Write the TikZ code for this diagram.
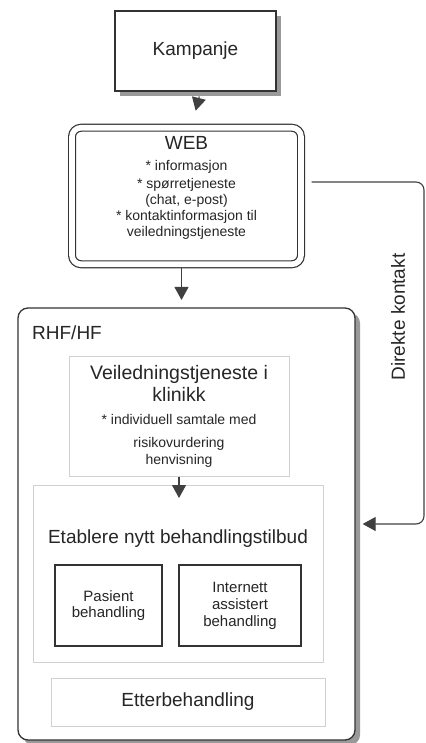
\documentclass[tikz,border=0pt]{standalone}
\usepackage{fontspec}
\setmainfont{Liberation Sans}
\usetikzlibrary{shadows,arrows.meta}
\newcommand{\bigtxt}{\fontsize{19}{22}\selectfont}
\newcommand{\smalltxt}{\fontsize{14}{16}\selectfont}

\begin{document}
\begin{tikzpicture}[x=1pt,y=-1pt,
  box/.style={draw=black!80,line width=1.3pt,fill=white,inner sep=0pt,text=black!85},
  shadowbox/.style={box,drop shadow={shadow xshift=5pt,shadow yshift=-5pt,fill=black!40,opacity=1}},
  lightbox/.style={draw=black!18,line width=1pt,fill=white,inner sep=0pt,text=black!85},
  arr/.style={draw=black!75,line width=1.1pt,-{Triangle[width=14pt,length=13pt]}},
  big/.style={font=\bigtxt,text=black!85},
  small/.style={font=\smalltxt,text=black!85}]
  \useasboundingbox (0,0) rectangle (425,743);
  \node[shadowbox,minimum width=161pt,minimum height=80pt,big] (kampanje) at (195.5,51) {Kampanje};
  \node[box,double,double distance=5.6pt,line width=1.2pt,rounded corners=9pt,minimum width=229pt,minimum height=136.5pt] (web) at (186.5,196) {};
  \node[small,inner sep=0pt] (webtext) at (186.5,189) {\begin{tabular}{@{}c@{}}
    \bigtxt WEB\\[5pt]
    {*} informasjon\\[2pt]
    {*} spørretjeneste\\
    (chat, e-post)\\
    {*} kontaktinformasjon til\\
    veiledningstjeneste
  \end{tabular}};
  \node[shadowbox,rounded corners=10pt,minimum width=337pt,minimum height=432pt] (rhf) at (186.5,524) {};
  \node[big,anchor=west,inner sep=0pt] (rhflabel) at (32,333) {RHF/HF};
  \node[lightbox,minimum width=220pt,minimum height=120pt,small] (veil) at (179,416) {\begin{tabular}{@{}c@{}}
    \rule{0pt}{17pt}\fontsize{19.5}{22}\selectfont Veiledningstjeneste i\\[3pt]
    \fontsize{19.5}{22}\selectfont klinikk\\[7pt]
    {*} individuell samtale med\\[7pt]
    risikovurdering\\[1pt]
    henvisning
  \end{tabular}};
  \node[lightbox,minimum width=290pt,minimum height=177pt] (etab) at (178,573.5) {};
  \node[big] (etabtitle) at (178,539) {Etablere nytt behandlingstilbud};
  \node[box,minimum width=107pt,minimum height=81pt,align=center,font=\fontsize{15}{16.5}\selectfont] (pasient) at (108.5,605.5) {Pasient\\behandling};
  \node[box,minimum width=122pt,minimum height=81pt,align=center,font=\fontsize{15}{17}\selectfont] (internett) at (240,605.5) {Internett\\assistert\\behandling};
  \node[lightbox,minimum width=274pt,minimum height=48pt,big] (etter) at (188,702) {Etterbehandling};

  \draw[arr,shorten <=5pt,shorten >=17pt] ([xshift=5pt]kampanje.south) -- ([xshift=5pt]web.north);
  \draw[arr,shorten <=3pt,shorten >=7.4pt] ([xshift=-5pt]web.south) -- ([xshift=-5pt]rhf.north);
  \draw[arr,shorten >=-13.5pt] (veil.south) -- (veil.south |- etab.north);
  \draw[arr,rounded corners=8pt,shorten <=10pt] ([yshift=14pt]web.east) -- ++(122.4,0) |- ([xshift=7pt]rhf.east);
  \node[big,rotate=90] (direkte) at (398,317) {Direkte kontakt};
\end{tikzpicture}
\end{document}
